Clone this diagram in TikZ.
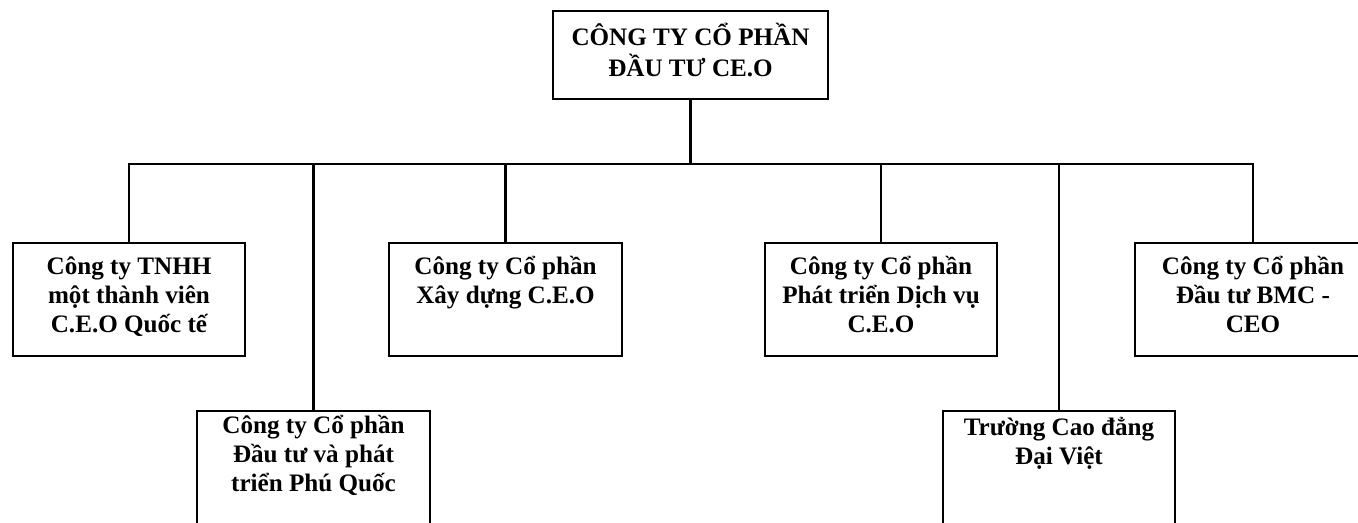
\documentclass[tikz,border=0pt]{standalone}
\usepackage{fontspec}
\setmainfont{Liberation Serif}
\usetikzlibrary{positioning}
\newcommand{\stk}[1]{\begin{tabular}[t]{@{}c@{}}#1\end{tabular}}

\begin{document}
\begin{tikzpicture}[x=0.02cm, y=-0.02cm, line width=1.2pt,
  unit/.style={draw=black, line width=1.2pt, minimum height=2.26cm, inner sep=0pt},
  lbl/.style={anchor=base, inner sep=0pt, font=\bfseries\fontsize{14.3}{16.4}\selectfont}]
  \useasboundingbox (0,0) rectangle (1358,522);
  % parent company
  \node[unit, minimum width=5.5cm, minimum height=1.76cm] (ceo) at (690.5,55) {};
  \node[lbl] (ceo-t) at ([yshift=-0.72cm]ceo.north) {\stk{CÔNG TY CỔ PHẦN\\ĐẦU TƯ CE.O}};
  % member companies
  \foreach \n/\cx/\cy/\w/\dy/\txt in {%
    b1/129/299.5/4.64/0.66/{Công ty TNHH\\một thành viên\\C.E.O Quốc tế},
    b2/505.5/299.5/4.66/0.66/{Công ty Cổ phần\\Xây dựng C.E.O},
    b3/881/299.5/4.64/0.66/{Công ty Cổ phần\\Phát triển Dịch vụ\\C.E.O},
    b4/1253/299.5/4.72/0.66/{Công ty Cổ phần\\Đầu tư BMC -\\CEO},
    b5/313.5/467.5/4.66/0.48/{Công ty Cổ phần\\Đầu tư và phát\\triển Phú Quốc},
    b6/1059/467.5/4.64/0.52/{Trường Cao đẳng\\Đại Việt}}{
      \node[unit, minimum width=\w cm] (\n) at (\cx,\cy) {};
      \node[lbl] (\n-t) at ([yshift=-\dy cm]\n.north) {\stk{\txt}};
  }
  % connectors
  \coordinate (busy) at (0,164);
  \coordinate (bus) at (ceo.south |- busy);
  \draw (ceo.south) -- (bus);
  \foreach \n in {b1,b2,b3,b4,b5,b6}
    \draw (bus) -| (\n.north);
\end{tikzpicture}
\end{document}
